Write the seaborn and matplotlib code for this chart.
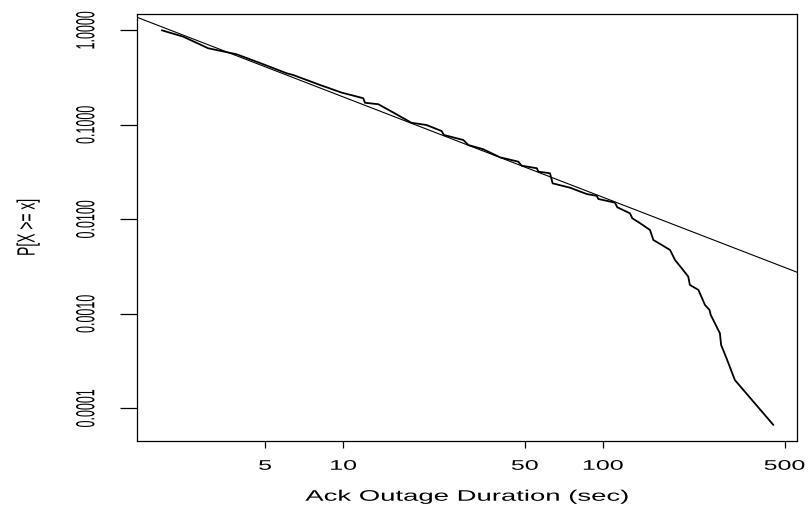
import numpy as np
import pandas as pd
import matplotlib
matplotlib.use("Agg")
import matplotlib.pyplot as plt
from matplotlib.ticker import FixedLocator, FixedFormatter, NullLocator
from matplotlib.patheffects import AbstractPathEffect
from matplotlib.transforms import Affine2D
import seaborn as sns

# ---- data ----
outage_sec = [2.0, 2.42, 3.02, 3.89, 4.92, 6.05, 6.42, 8.13, 9.86, 11.94, 12.12,
              13.64, 15.8, 18.3, 20.9, 23.9, 24.4, 29.0, 30.3, 34.6, 40.1, 47.2,
              48.6, 55.6, 56.4, 62.5, 64.0, 74.6, 86.6, 94.6, 96.0, 111.2, 113.5,
              127.0, 129.7, 141.0, 151.7, 156.3, 168.4, 181.3, 189.4, 201.0, 213.0,
              216.0, 233.0, 247.0, 257.0, 260.0, 282.0, 285.0, 299.0, 322.0, 453.0]
p_ge = [1.0, 0.856, 0.645, 0.557, 0.437, 0.351, 0.336, 0.264, 0.219, 0.191, 0.171,
        0.165, 0.132, 0.105, 0.0995, 0.0860, 0.0780, 0.0690, 0.0611, 0.0551, 0.0453,
        0.0407, 0.0369, 0.0347, 0.0319, 0.0307, 0.0240, 0.0216, 0.0185, 0.0177,
        0.0164, 0.0150, 0.0134, 0.01157, 0.01025, 0.00885, 0.00770, 0.00604,
        0.00535, 0.00473, 0.00371, 0.00303, 0.00247, 0.00202, 0.00179, 0.00124,
        0.00110, 0.00097, 0.000622, 0.000468, 0.000338, 0.000199, 0.0000666]

# power-law fit y = fit_coef * x ** fit_exp
fit_coef = 2.27
fit_exp = -1.0615

x_ticks = [5, 10, 50, 100, 500]
x_tick_labels = ["5", "10", "50", "100", "500"]
y_ticks = [1.0, 0.1, 0.01, 0.001, 0.0001]
y_tick_labels = ["1.0000", "0.1000", "0.0100", "0.0010", "0.0001"]

x_title = "Ack Outage Duration (sec)"
y_title = "P[X >= x]"


class HStretch(AbstractPathEffect):
    """Stretch rendered glyphs horizontally about their own centre (the
    reference image was scaled non-uniformly)."""

    def __init__(self, sx):
        super().__init__()
        self.sx = sx

    def draw_path(self, renderer, gc, tpath, affine, rgbFace=None):
        ext = tpath.get_extents(affine)
        cx = 0.5 * (ext.x0 + ext.x1)
        new_affine = affine + Affine2D().translate(-cx, 0).scale(self.sx, 1).translate(cx, 0)
        renderer.draw_path(gc, tpath, new_affine, rgbFace)


# ---- plot ----
sns.set_style("ticks")
plt.rcParams["font.family"] = ["Liberation Sans", "DejaVu Sans"]

fig = plt.figure(figsize=(8.11, 5.09), dpi=100)
ax = fig.add_axes([137 / 811, 1 - 440.7 / 509, (797 - 137) / 811, (440.7 - 14.3) / 509])

df = pd.DataFrame({"x": outage_sec, "p": p_ge})
sns.lineplot(data=df, x="x", y="p", ax=ax, color="black", linewidth=1.3,
             estimator=None, sort=False)

ax.set_xscale("log")
ax.set_yscale("log")
ax.set_xlim(1.606, 558.5)
ax.set_ylim(4.54e-5, 1.476)

# fitted power law, straight on log-log axes
x_a, x_b = 2.0, 400.0
ax.axline((x_a, fit_coef * x_a ** fit_exp), (x_b, fit_coef * x_b ** fit_exp),
          color="black", linewidth=0.8)

ax.xaxis.set_major_locator(FixedLocator(x_ticks))
ax.xaxis.set_major_formatter(FixedFormatter(x_tick_labels))
ax.xaxis.set_minor_locator(NullLocator())
ax.yaxis.set_major_locator(FixedLocator(y_ticks))
ax.yaxis.set_major_formatter(FixedFormatter(y_tick_labels))
ax.yaxis.set_minor_locator(NullLocator())

ax.tick_params(axis="x", length=5, width=0.9, color="black", pad=8,
               labelsize=10, labelcolor="black")
ax.tick_params(axis="y", length=12, width=0.9, color="black", pad=20,
               labelsize=9, labelcolor="black")
for lbl in ax.get_xticklabels():
    lbl.set_path_effects([HStretch(1.8)])
for lbl in ax.get_yticklabels():
    lbl.set_rotation(90)
    lbl.set_va("center")
    lbl.set_path_effects([HStretch(2.1)])

for s in ax.spines.values():
    s.set_visible(True)
    s.set_color("black")
    s.set_linewidth(0.9)

ax.set_xlabel(x_title, fontsize=11, color="black")
ax.set_ylabel(y_title, fontsize=10, color="black")
ax.xaxis.set_label_coords(0.5, -0.115)
ax.xaxis.label.set_va("top")
ax.xaxis.label.set_path_effects([HStretch(1.8)])
ax.yaxis.set_label_coords(-0.155, 0.5)
ax.yaxis.label.set_path_effects([HStretch(1.8)])

fig.savefig("out.png", dpi=100, facecolor="white")
